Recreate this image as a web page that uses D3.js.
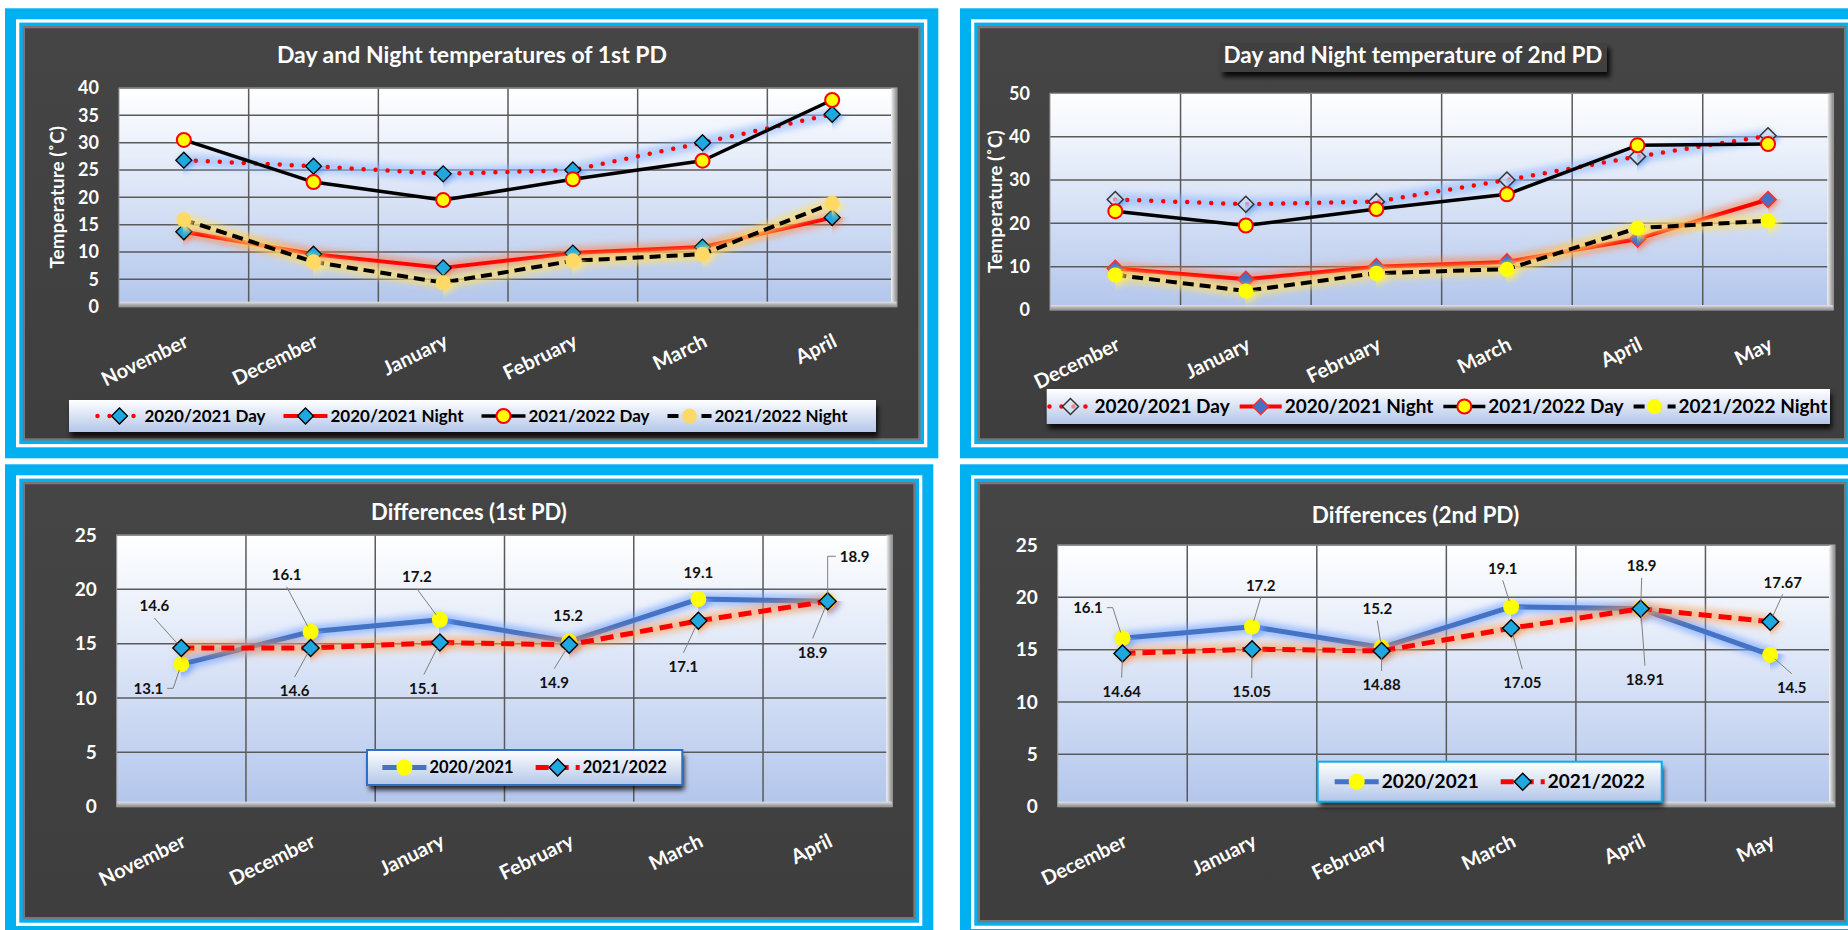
<!DOCTYPE html>
<html>
<head>
<meta charset="utf-8">
<script src="https://cdn.jsdelivr.net/npm/d3@7"></script>
<style>
  html, body { margin: 0; padding: 0; background: #ffffff; }
  svg { display: block; font-family: Lato, "Open Sans", "Noto Sans", sans-serif; }
</style>
</head>
<body>
<svg id="chart" width="1848" height="930"></svg>
<script>
// ---------------- data ----------------
const monthsPD1 = ["November", "December", "January", "February", "March", "April"];
const monthsPD2 = ["December", "January", "February", "March", "April", "May"];
const tempTicksPD1 = [0, 5, 10, 15, 20, 25, 30, 35, 40];
const tempTicksPD2 = [0, 10, 20, 30, 40, 50];
const diffTicks = [0, 5, 10, 15, 20, 25];

// 1st planting date, temperatures (°C)
const pd1Day2021   = [26.8, 25.7, 24.3, 25.0, 30.0, 35.2];
const pd1Night2021 = [13.7, 9.6, 7.1, 9.8, 10.9, 16.3];
const pd1Day2022   = [30.5, 22.8, 19.5, 23.3, 26.7, 37.8];
const pd1Night2022 = [15.9, 8.2, 4.4, 8.4, 9.6, 18.9];

// 2nd planting date, temperatures (°C)
const pd2Day2021   = [25.5, 24.4, 25.0, 30.0, 35.4, 40.2];
const pd2Night2021 = [9.6, 7.1, 10.0, 11.1, 16.4, 25.5];
const pd2Day2022   = [22.8, 19.5, 23.3, 26.7, 38.0, 38.3];
const pd2Night2022 = [8.1, 4.4, 8.5, 9.4, 18.9, 20.6];

// day - night differences
const diffPD1_2021 = [13.1, 16.1, 17.2, 15.2, 19.1, 18.9];
const diffPD1_2022 = [14.6, 14.6, 15.1, 14.9, 17.1, 18.9];
const diffPD2_2021 = [16.1, 17.2, 15.2, 19.1, 18.9, 14.5];
const diffPD2_2022 = [14.64, 15.05, 14.88, 17.05, 18.91, 17.67];

// ---------------- styles ----------------
const CYAN_DIAMOND = "#1fa7e0";
const styleDotRed = {
  stroke: "#ff0000", width: 4.5, dash: "0 12", cap: "round", glow: "#8fb8ff", glowOpacity: 0.6
};
const styleRedSolid = { stroke: "#ff0000", width: 4, glow: "#ff7a3c", glowOpacity: 0.55 };
const styleBlack = { stroke: "#000000", width: 3.5 };
const styleBlackDash = { stroke: "#000000", width: 4, dash: "11 6", glow: "#ffe066", glowOpacity: 0.7 };
const styleBlue = { stroke: "#4472c4", width: 5, glow: "#6e9eff", glowOpacity: 0.6 };
const styleRedDash = { stroke: "#ff0000", width: 5, dash: "13 7", glow: "#ff9a50", glowOpacity: 0.55 };

const mkDiamondCyan = { shape: "diamond", r: 8, fill: CYAN_DIAMOND, stroke: "#000", sw: 1.3, glow: "#4d8fff" };
const mkDiamondCyanRed = { shape: "diamond", r: 8, fill: CYAN_DIAMOND, stroke: "#000", sw: 1.3, glow: "#ff6a3a" };
const mkDiamondHollow = { shape: "diamond", r: 8, fill: "rgba(215,226,245,0.6)", stroke: "#333", sw: 1.5, glow: "#4d8fff" };
const mkDiamondBlue = { shape: "diamond", r: 8, fill: "#4472c4", stroke: "#ff2a2a", sw: 1.5, glow: "#ff6a3a" };
const mkCircleRed = { shape: "circle", r: 7, fill: "#ffff00", stroke: "#ff0000", sw: 2 };
const mkCircleGold = { shape: "circle", r: 7.5, fill: "#ffd966", stroke: "none", sw: 0, glow: "#ffe680" };
const mkCircleYellow = { shape: "circle", r: 7.5, fill: "#ffff00", stroke: "none", sw: 0, glow: "#ffef5a" };
const mkCircleYellowBlue = { shape: "circle", r: 8, fill: "#ffff00", stroke: "none", sw: 0, glow: "#6e9eff" };
const mkDiamondDiff = { shape: "diamond", r: 8.5, fill: CYAN_DIAMOND, stroke: "#000", sw: 1.4, glow: "#ff8a40" };

// ---------------- layout ----------------
const panels = [
  {
    frame: { x0: 5, y0: 8.3, x1: 938.3, y1: 458.3 },
    plot: { x0: 119, y0: 88, x1: 897, y1: 306.7 },
    cats: monthsPD1, ticks: tempTicksPD1, domain: [0, 40],
    title: { text: "Day and Night temperatures of 1st PD", x: 472, y: 63, size: 23 },
    yTitle: { text: "Temperature (\u02DAC)", x: 57, size: 19 },
    tickFont: 18, xFont: 20,
    series: [
      { name: "2020/2021 Day", values: pd1Day2021, line: styleDotRed, marker: mkDiamondCyan },
      { name: "2020/2021 Night", values: pd1Night2021, line: styleRedSolid, marker: mkDiamondCyanRed },
      { name: "2021/2022 Day", values: pd1Day2022, line: styleBlack, marker: mkCircleRed },
      { name: "2021/2022 Night", values: pd1Night2022, line: styleBlackDash, marker: mkCircleGold }
    ],
    legend: { x0: 69, y0: 400, x1: 876, y1: 432, font: 17, gap: 18, symW: 44, border: null }
  },
  {
    frame: { x0: 960, y0: 8.3, x1: 1864, y1: 458.3 },
    plot: { x0: 1050, y0: 93.3, x1: 1833.3, y1: 310 },
    cats: monthsPD2, ticks: tempTicksPD2, domain: [0, 50],
    title: { text: "Day and Night temperature of 2nd PD", x: 1413, y: 63, size: 22.5,
             box: { x0: 1220, y0: 43, x1: 1607, y1: 72 } },
    yTitle: { text: "Temperature (\u02DAC)", x: 995, size: 19 },
    tickFont: 18, xFont: 20,
    series: [
      { name: "2020/2021 Day", values: pd2Day2021, line: styleDotRed, marker: mkDiamondHollow },
      { name: "2020/2021 Night", values: pd2Night2021, line: styleRedSolid, marker: mkDiamondBlue },
      { name: "2021/2022 Day", values: pd2Day2022, line: styleBlack, marker: mkCircleRed },
      { name: "2021/2022 Night", values: pd2Night2022, line: styleBlackDash, marker: mkCircleYellow }
    ],
    legend: { x0: 1046.7, y0: 389, x1: 1830, y1: 424, font: 19, gap: 10, symW: 42, border: null }
  },
  {
    frame: { x0: 5, y0: 464.3, x1: 933.3, y1: 937 },
    plot: { x0: 116.7, y0: 535, x1: 892.3, y1: 806.7 },
    cats: monthsPD1, ticks: diffTicks, domain: [0, 25],
    title: { text: "Differences (1st PD)", x: 469, y: 520, size: 22 },
    yTitle: null,
    tickFont: 19, xFont: 20,
    series: [
      { name: "2020/2021", values: diffPD1_2021, line: styleBlue, marker: mkCircleYellowBlue,
        labels: [[-33, 24, "right"], [-24, -57, "bottom"], [-23, -43, "bottom"],
                 [-1, -26, null], [0, -26, null], [27, -45, "elbow"]] },
      { name: "2021/2022", values: diffPD1_2022, line: styleRedDash, marker: mkDiamondDiff,
        labels: [[-27, -42, "bottom"], [-16, 43, "top"], [-16, 46, "top"],
                 [-15, 38, "top"], [-15, 46, "top"], [-15, 51, "top"]] }
    ],
    legend: { x0: 367, y0: 750, x1: 682.3, y1: 785, font: 16.5, gap: 22, symW: 44, border: "#2e6fc0" }
  },
  {
    frame: { x0: 960, y0: 464.3, x1: 1864, y1: 940 },
    plot: { x0: 1057.7, y0: 545, x1: 1835, y1: 806.7 },
    cats: monthsPD2, ticks: diffTicks, domain: [0, 25],
    title: { text: "Differences (2nd PD)", x: 1415.5, y: 523, size: 22.5 },
    yTitle: null,
    tickFont: 19, xFont: 20,
    series: [
      { name: "2020/2021", values: diffPD2_2021, line: styleBlue, marker: mkCircleYellowBlue,
        labels: [[-34.5, -30.5, "right"], [8.7, -41, "bottom"], [-4.3, -39, "bottom"],
                 [-8.4, -38.5, "bottom"], [1, -43, "bottom"], [21.5, 32.8, "top"]] },
      { name: "2021/2022", values: diffPD2_2022, line: styleRedDash, marker: mkDiamondDiff,
        labels: [[-0.8, 38.3, "top"], [-0.3, 43, "top"], [0, 34, "top"],
                 [11.2, 55, "top"], [4.3, 71, "top"], [12.5, -39.4, "bottom"]] }
    ],
    legend: { x0: 1317.7, y0: 761.7, x1: 1661.7, y1: 801.7, font: 19, gap: 22, symW: 44, border: "#00b0f0" }
  }
];

// ---------------- defs ----------------
const svg = d3.select("#chart");
const defs = svg.append("defs");

function linGrad(id, x2, y2, stops) {
  const g = defs.append("linearGradient").attr("id", id)
    .attr("x1", 0).attr("y1", 0).attr("x2", x2).attr("y2", y2);
  stops.forEach(([o, c]) => g.append("stop").attr("offset", o).attr("stop-color", c));
}
linGrad("plotFill", 0, 1, [[0, "#ffffff"], [0.45, "#dde6f7"], [1, "#b2c5eb"]]);
linGrad("legendFill", 0, 1, [[0, "#ffffff"], [1, "#b3c6e8"]]);
linGrad("bevelRight", 1, 0, [[0, "#f4f4f4"], [1, "#8a8a8a"]]);
linGrad("bevelBottom", 0, 1, [[0, "#e4e4e4"], [1, "#8a8a8a"]]);
linGrad("panelShade", 0, 1, [[0, "#454545"], [1, "#3e3e3e"]]);

function blurFilter(id, sd) {
  defs.append("filter").attr("id", id)
    .attr("filterUnits", "userSpaceOnUse")
    .attr("x", 0).attr("y", 0).attr("width", 1900).attr("height", 960)
    .append("feGaussianBlur").attr("stdDeviation", sd);
}
blurFilter("glow", 3.2);
blurFilter("shadow", 2.5);

// ---------------- helpers ----------------
const lineGen = d3.line().x(d => d[0]).y(d => d[1]);

function drawLine(g, pts, st) {
  if (st.glow) {
    g.append("path").attr("d", lineGen(pts))
      .attr("fill", "none").attr("stroke", st.glow)
      .attr("stroke-width", st.width + 8).attr("stroke-opacity", st.glowOpacity)
      .attr("stroke-linejoin", "round").attr("stroke-linecap", "round")
      .attr("filter", "url(#glow)");
  }
  g.append("path").attr("d", lineGen(pts))
    .attr("fill", "none").attr("stroke", st.stroke)
    .attr("stroke-width", st.width)
    .attr("stroke-dasharray", st.dash || null)
    .attr("stroke-linecap", st.cap || "butt")
    .attr("stroke-linejoin", "round");
}

function diamondPath(r) {
  return `M0,${-r}L${r},0L0,${r}L${-r},0Z`;
}

function drawMarker(g, x, y, m, withGlow = true) {
  const mg = g.append("g").attr("transform", `translate(${x},${y})`);
  if (m.glow && withGlow) {
    const gl = m.shape === "diamond"
      ? mg.append("path").attr("d", diamondPath(m.r + 4))
      : mg.append("circle").attr("r", m.r + 4);
    gl.attr("fill", m.glow).attr("opacity", 0.75).attr("filter", "url(#glow)");
  }
  const s = m.shape === "diamond"
    ? mg.append("path").attr("d", diamondPath(m.r))
    : mg.append("circle").attr("r", m.r);
  s.attr("fill", m.fill).attr("stroke", m.stroke).attr("stroke-width", m.sw);
}

function drawFrame(g, f) {
  const layers = [[0, "#00b0f0"], [11, "#ffffff"], [14.3, "#00b0f0"], [17.7, "#777777"], [20, "url(#panelShade)"]];
  layers.forEach(([inset, fill]) => {
    g.append("rect")
      .attr("x", f.x0 + inset).attr("y", f.y0 + inset)
      .attr("width", f.x1 - f.x0 - 2 * inset).attr("height", f.y1 - f.y0 - 2 * inset)
      .attr("fill", fill);
  });
}

// ---------------- panels ----------------
panels.forEach(p => {
  const g = svg.append("g");
  drawFrame(g, p.frame);

  const pl = p.plot;
  const x = d3.scaleBand().domain(p.cats).range([pl.x0, pl.x1]).padding(0);
  const y = d3.scaleLinear().domain(p.domain).range([pl.y1, pl.y0]);
  const cx = c => x(c) + x.bandwidth() / 2;

  // plot area with bevelled edge
  g.append("rect").attr("x", pl.x0).attr("y", pl.y0)
    .attr("width", pl.x1 - pl.x0).attr("height", pl.y1 - pl.y0)
    .attr("fill", "url(#plotFill)");

  // gridlines
  g.append("g").selectAll("line.h").data(p.ticks).join("line")
    .attr("x1", pl.x0).attr("x2", pl.x1)
    .attr("y1", d => y(d)).attr("y2", d => y(d))
    .attr("stroke", "#5a5a5a").attr("stroke-width", 1.5);
  g.append("g").selectAll("line.v").data(p.cats.slice(1)).join("line")
    .attr("x1", d => x(d)).attr("x2", d => x(d))
    .attr("y1", pl.y0).attr("y2", pl.y1)
    .attr("stroke", "#5a5a5a").attr("stroke-width", 1.5);

  g.append("rect").attr("x", pl.x1 - 6).attr("y", pl.y0)
    .attr("width", 6).attr("height", pl.y1 - pl.y0).attr("fill", "url(#bevelRight)");
  g.append("rect").attr("x", pl.x0).attr("y", pl.y1 - 5)
    .attr("width", pl.x1 - pl.x0).attr("height", 5).attr("fill", "url(#bevelBottom)");
  g.append("rect").attr("x", pl.x0).attr("y", pl.y0)
    .attr("width", pl.x1 - pl.x0).attr("height", pl.y1 - pl.y0)
    .attr("fill", "none").attr("stroke", "#9c9c9c").attr("stroke-width", 1);

  // y axis
  const ya = g.append("g").attr("transform", `translate(${pl.x0},0)`)
    .call(d3.axisLeft(y).tickValues(p.ticks).tickSize(0).tickPadding(20));
  ya.select(".domain").remove();
  ya.attr("font-family", null).attr("font-size", null);
  ya.selectAll("text").attr("fill", "#ffffff")
    .style("font-size", p.tickFont + "px").style("font-weight", "bold");

  // x axis (rotated month labels)
  const xa = g.append("g").attr("transform", `translate(0,${pl.y1})`)
    .call(d3.axisBottom(x).tickSize(0));
  xa.select(".domain").remove();
  xa.attr("font-family", null).attr("font-size", null);
  xa.selectAll("text")
    .attr("x", 0).attr("y", 0).attr("dy", 0)
    .attr("text-anchor", "end")
    .attr("transform", "translate(6,39) rotate(-26)")
    .attr("fill", "#ffffff")
    .style("font-size", p.xFont + "px").style("font-weight", "bold");

  // title
  if (p.title.box) {
    const b = p.title.box;
    g.append("rect").attr("x", b.x0 + 3).attr("y", b.y0 + 5)
      .attr("width", b.x1 - b.x0).attr("height", b.y1 - b.y0)
      .attr("fill", "#000").attr("opacity", 0.85).attr("filter", "url(#shadow)");
    g.append("rect").attr("x", b.x0).attr("y", b.y0)
      .attr("width", b.x1 - b.x0).attr("height", b.y1 - b.y0)
      .attr("fill", "#404040");
  }
  g.append("text").attr("x", p.title.x).attr("y", p.title.y)
    .attr("text-anchor", "middle").attr("fill", "#ffffff")
    .style("font-size", p.title.size + "px").style("font-weight", "bold")
    .text(p.title.text);

  if (p.yTitle) {
    const cy = (pl.y0 + pl.y1) / 2;
    g.append("text")
      .attr("transform", `translate(${p.yTitle.x},${cy}) rotate(-90)`)
      .attr("text-anchor", "middle").attr("dy", "0.35em")
      .attr("fill", "#ffffff")
      .style("font-size", p.yTitle.size + "px").style("font-weight", "bold")
      .text(p.yTitle.text);
  }

  // series
  const seriesG = g.append("g");
  p.series.forEach(s => {
    const pts = s.values.map((v, i) => [cx(p.cats[i]), y(v)]);
    drawLine(seriesG, pts, s.line);
    pts.forEach(pt => drawMarker(seriesG, pt[0], pt[1], s.marker));
  });

  // data labels with leader lines
  const labelG = g.append("g");
  p.series.forEach(s => {
    if (!s.labels) return;
    s.values.forEach((v, i) => {
      const mx = cx(p.cats[i]), my = y(v);
      const [dx, dy, anchor] = s.labels[i];
      const lx = mx + dx, ly = my + dy;
      const t = labelG.append("text").attr("x", lx).attr("y", ly)
        .attr("dy", "0.35em").attr("text-anchor", "middle")
        .attr("fill", "#111111")
        .style("font-size", "15px").style("font-weight", "bold")
        .text(String(v));
      if (!anchor) return;
      const w = t.node().getComputedTextLength();
      let pts;
      if (anchor === "top") pts = [[lx, ly - 14], [mx, my]];
      else if (anchor === "bottom") pts = [[lx, ly + 12], [mx, my]];
      else if (anchor === "right") pts = [[lx + w / 2 + 4, ly], [lx + w / 2 + 10, ly], [mx, my]];
      else pts = [[lx - w / 2 - 4, ly], [mx, ly], [mx, my]];
      // stop the leader at the marker edge
      const a = pts[pts.length - 2], b = pts[pts.length - 1];
      const len = Math.hypot(b[0] - a[0], b[1] - a[1]);
      const cut = Math.min(6, len);
      pts[pts.length - 1] = [b[0] - (b[0] - a[0]) / len * cut, b[1] - (b[1] - a[1]) / len * cut];
      labelG.append("path").attr("d", lineGen(pts))
        .attr("fill", "none").attr("stroke", "#808080").attr("stroke-width", 1);
    });
  });

  // legend
  const L = p.legend;
  const lg = g.append("g");
  lg.append("rect").attr("x", L.x0 + 2).attr("y", L.y0 + 5)
    .attr("width", L.x1 - L.x0).attr("height", L.y1 - L.y0)
    .attr("fill", "#000").attr("opacity", 0.8).attr("filter", "url(#shadow)");
  lg.append("rect").attr("x", L.x0).attr("y", L.y0)
    .attr("width", L.x1 - L.x0).attr("height", L.y1 - L.y0)
    .attr("fill", "url(#legendFill)")
    .attr("stroke", L.border || "none").attr("stroke-width", L.border ? 2 : 0);
  const itemsG = lg.append("g");
  const midY = (L.y0 + L.y1) / 2;
  let cursor = 0;
  p.series.forEach(s => {
    const ig = itemsG.append("g").attr("transform", `translate(${cursor},${midY})`);
    drawLine(ig, [[0, 0], [L.symW, 0]], Object.assign({}, s.line, { glow: null }));
    drawMarker(ig, L.symW / 2, 0, s.marker, false);
    const t = ig.append("text").attr("x", L.symW + 3).attr("y", 0).attr("dy", "0.35em")
      .attr("fill", "#000000")
      .style("font-size", L.font + "px").style("font-weight", "bold")
      .text(s.name);
    cursor += L.symW + 3 + t.node().getComputedTextLength() + L.gap;
  });
  const total = cursor - L.gap;
  itemsG.attr("transform", `translate(${(L.x0 + L.x1) / 2 - total / 2},0)`);
});
</script>
</body>
</html>
